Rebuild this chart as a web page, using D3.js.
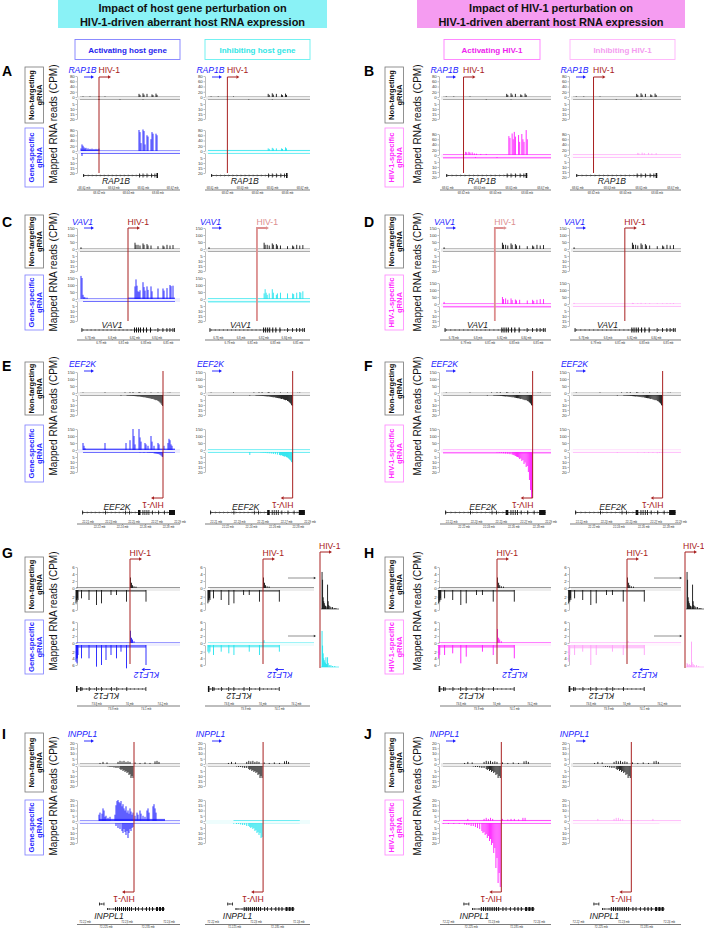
<!DOCTYPE html>
<html><head><meta charset="utf-8">
<script src="https://cdn.jsdelivr.net/npm/d3@7"></script>
<style>body{margin:0;background:#fff}text{font-family:"Liberation Sans",Arial,sans-serif}</style>
</head><body><script>
// ---------------- DATA (positions are % of genomic window; values in CPM) ----------------
// Row A: RAP1B
const rap1bNT = {plus:[[3,2],[10,2],[19,3],[25,2],[59,12],[60,8],[63,14],[64,9],[67,12],[72,10],[73,7],[76,13],[77,8]], minus:[[19,1],[40,0.5],[63,0.5]], floor:[[0,100,1,0.5]]};
const rap1bAct = {plus:[[1,10],[2,25],[3,20],[4,14],[5,10],[6,12],[8,10],[10,8],[12,9],[14,7],[16,8],[18,7],[19,9],[59,80],[60,72],[61,30],[63,82],[64,76],[65,25],[67,60],[68,55],[71,45],[72,72],[73,66],[76,66],[77,60]], minus:[[2,3],[19,1]], floor:[[1,19,5,1],[19,100,2,1]]};
const rap1bInh = {plus:[[59,10],[60,8],[63,12],[64,9],[67,10],[72,10],[73,8],[76,14],[77,10]], minus:[], floor:[[0,100,4,1]]};
const rap1bHivAct = {plus:[[19,6],[21,12],[22,10],[24,12],[25,9],[27,10],[29,6],[31,5],[35,4],[40,4],[61,72],[62,65],[64,82],[65,60],[66,88],[67,70],[70,76],[71,50],[73,80],[74,60],[75,50],[77,95],[78,60]], minus:[[30,1],[50,1]], floor:[[0,100,3,1.5]]};
const rap1bHivInh = {plus:[[60,8],[61,6],[64,9],[66,7],[70,8],[73,6],[77,7]], minus:[], floor:[[0,100,3,1]]};
// Row C: VAV1
const vav1NT = {plus:[[1,12],[55,45],[56,30],[58,30],[60,25],[63,40],[64,30],[67,35],[68,25],[71,25],[78,20],[83,25],[84,18],[87,30],[90,25],[93,28]], minus:[], floor:[[0,100,2,0.5]]};
const vav1Act = {plus:[[1,165],[2,150],[3,30],[4,15],[5,12],[7,10],[55,90],[56,140],[57,95],[58,55],[59,50],[60,62],[63,120],[64,85],[65,60],[67,90],[68,65],[71,90],[72,55],[78,75],[83,75],[84,60],[87,78],[90,100],[91,92],[93,95]], minus:[], floor:[[3,48,4,1],[48,95,10,1]]};
const vav1Inh = {plus:[[55,40],[56,70],[57,45],[58,30],[60,40],[63,70],[64,45],[67,30],[68,40],[71,45],[78,40],[83,40],[84,35],[87,45],[90,50],[91,45],[93,55]], minus:[], floor:[[0,100,6,1.5]]};
const vav1HivAct = {plus:[[1,15],[55,50],[56,35],[58,40],[60,30],[63,40],[64,28],[67,32],[68,25],[71,30],[78,25],[83,30],[84,22],[87,30],[90,35],[93,35]], minus:[], floor:[[0,100,5,1.5]]};
const vav1HivInh = {plus:[[1,8],[55,8],[56,6],[60,6],[63,8],[67,6],[71,6],[78,5],[83,5],[87,6],[90,5],[93,6]], minus:[], floor:[[0,100,4,1]]};
// Row E: EEF2K
const eef2kNT = {plus:[[3,3],[25,4],[45,4],[50,5],[53,6],[59,6],[60,4],[65,3],[71,4],[78,3],[88,2],[90,3]],
  minus:[[41,0.6],[47,0.5],[48,0.6],[49,0.6],[50,0.7],[51,0.8],[52,0.8],[53,1],[54,1],[55,1.1],[56,1.2],[57,1.3],[58,1.5],[59,1.4],[60,1.6],[61,1.8],[62,2],[63,2.1],[64,2.3],[65,2.2],[66,2.6],[67,2.8],[68,3],[69,3.2],[70,3.3],[71,3.6],[72,4],[73,3.8],[74,4.4],[75,4.8],[76,5.2],[77,5],[78,6],[79,6.5],[80,7.5],[81,8.5],[82,10],[82.6,11]], floor:[[0,100,1,0.5]]};
const eef2kAct = {plus:[[3,50],[4,30],[5,12],[25,50],[46,50],[50,70],[53,150],[54,100],[55,40],[59,150],[60,90],[61,60],[65,50],[66,40],[68,30],[71,100],[72,60],[74,30],[78,50],[79,40],[84,30],[88,50],[89,80],[90,70],[91,40],[92,30]],
  minus:[[60,0.5],[64,0.6],[68,0.8],[70,1],[72,1],[74,1.3],[75,1.5],[76,1.6],[77,1.8],[78,2],[79,2.2],[80,2.8],[81,3.5],[82,4.5],[82.6,5]], floor:[[3,95,10,1]]};
const eef2kInh = {plus:[], minus:[[41,3],[52,0.5],[54,0.8],[56,1],[58,1.2],[60,1.4],[62,1.6],[64,2],[66,2.2],[68,2.6],[70,3],[71,3.4],[72,3.2],[73,3.8],[74,4.2],[75,4.6],[76,4.4],[77,5.2],[78,5.6],[79,6.5],[80,7.5],[81,8.5],[82,10],[82.6,10.5]], floor:[[0,100,5,1]]};
const eef2kHivAct = {plus:[], minus:[[50,0.6],[52,0.8],[54,1],[56,1.2],[58,1.5],[60,1.8],[62,2.2],[64,2.6],[65,3],[66,3.4],[67,4],[68,4.6],[69,5],[70,5.5],[71,7],[72,6.5],[73,9],[74,8],[75,12],[76,10.5],[77,15],[78,14],[79,20],[80,28],[81,38],[82,46],[82.6,40]], floor:[[0,100,2,1.5]]};
const eef2kHivInh = {plus:[], minus:[[41,1],[60,0.6],[66,0.8],[70,1],[74,1],[78,1.2],[80,1]], floor:[[0,100,2,1]]};
// Row G: KLF12
const klf12NT = {plus:[[50.5,3],[51.5,1.5],[52.5,0.8],[54,0.5],[56,0.4]], minus:[[-4,4],[-3.5,3],[-3,3.5],[-2.5,2.5],[-2,3],[1.5,2.5],[9,3],[16.5,4.5],[21.5,4],[31,1.5],[36.5,1.5],[46.5,3.5],[66,3.5]], floor:[[-4,100,0.15,0],[-4,66,0,0.5]]};
const klf12Act = {plus:[[50.5,3.5],[51.5,1.5],[52.5,1],[54,0.5]], minus:[[-4,5],[-3.5,4],[-3,5.5],[-2.5,4],[-2,3],[1.5,4],[9,4],[16.5,6.5],[21.5,6],[26,4.5],[31,3],[36.5,4],[41,2],[46.5,7],[66,6]], floor:[[-4,100,0.15,0],[-4,66,0,0.8]]};
const klf12Inh = {plus:[[51,0.8]], minus:[[-4,2],[-3,2.5],[-2,2],[1.5,3],[9,2],[16.5,2.5],[21.5,3],[36.5,2],[46.5,3],[66,2]], floor:[[-4,100,0.15,0],[-4,66,0,0.7]]};
const klf12HivAct = {plus:[[50.5,4],[51.5,1.5],[52.5,1],[54,0.5]], minus:[[-4,4],[-3,3],[1.5,3],[9,2.5],[16.5,5.5],[21.5,3.5],[36.5,2],[46.5,3],[66,4]], floor:[[-4,100,0.2,0],[-4,66,0,0.8]]};
const klf12HivInh = {plus:[[51,0.6]], minus:[[-4,5],[-3,3],[1.5,3],[9,2],[16.5,6],[21.5,3],[36.5,2],[46.5,3],[66,3]], floor:[[-4,100,0.2,0],[-4,66,0,1]]};
const klf12InsetNT = [[1,38],[2,30],[3,12],[4,8],[5,6],[6,4],[7,3],[8,3],[10,2],[11,25],[12,8],[13,4],[15,3],[17,2],[20,2],[23,1],[26,1]];
const klf12InsetInh = [[1,37],[2,22],[3,14],[4,9],[5,7],[6,5],[7,4],[8,10],[9,3],[11,10],[12,4],[14,2],[17,2],[20,1],[24,1]];
const klf12InsetHivInh = [[1,4],[2,3],[3,2],[5,3],[7,2],[9,26],[10,5],[12,3],[14,2],[18,2],[22,1]];
// Row I: INPPL1
const inppl1NT = {plus:[[20,1],[23,2],[27,1.5],[38,2],[40,3],[42,2.5],[44,3],[46,2],[48,2.5],[50,2],[55,1.5],[60,1],[65,1.5],[70,1],[75,2.5],[77,3],[79,2]],
  minus:[[28,0.5],[30,1],[32,1],[34,1.5],[36,2],[38,2],[40,3],[41,4],[42,3],[43,5],[44,4],[45,6],[46,5],[47,7],[48,6],[49,9],[50,8],[51,12],[52,10],[53,12]], floor:[[0,100,0.3,0.3]]};
const inppl1Act = {plus:[[19,6],[20,8],[22,7],[23,12],[24,10],[25,4],[26,5],[28,3],[30,4],[35,6],[36,15],[37,19],[38,20],[39,18],[40,17],[41,19],[42,14],[43,16],[44,12],[45,10],[46,14],[47,8],[48,10],[49,7],[50,12],[51,9],[52,6],[53,8],[55,5],[57,8],[58,6],[60,10],[61,7],[63,5],[65,4],[67,10],[68,12],[69,8],[73,14],[74,16],[75,12],[76,8]],
  minus:[[36,3],[38,5],[40,6],[42,8],[43,10],[44,6],[45,9],[46,12],[47,8],[48,15],[49,10],[50,6],[51,8],[52,5],[53,4]], floor:[[19,85,2,0],[0,100,0.5,0.6]]};
const inppl1Inh = {plus:[], minus:[[25,0.5],[28,1],[30,1],[32,1.5],[34,2],[36,2],[38,3],[40,3],[41,4],[42,5],[43,4],[44,6],[45,5],[46,8],[47,7],[48,10],[49,9],[50,12],[51,10],[52,15],[53,14]], floor:[[25,90,0.8,0.3]]};
const inppl1HivAct = {plus:[[23,2],[38,2],[40,3],[42,2],[44,3],[46,2],[55,2],[60,1.5],[63,2],[66,2],[70,1.5],[74,3],[76,3]],
  minus:[[0,1],[5,1],[10,1],[15,1],[20,1.5],[22,2],[24,2],[26,3],[28,3],[30,4],[32,5],[34,6],[36,8],[37,10],[38,9],[39,12],[40,11],[41,15],[42,13],[43,18],[44,16],[45,22],[46,20],[47,30],[48,25],[49,45],[50,35],[51,60],[52,50],[53,64]], floor:[[0,100,1,1]]};
const inppl1HivInh = {plus:[[23,2],[38,2],[40,3],[42,3],[44,2],[46,2],[60,1],[74,2]], minus:[], floor:[[0,100,0.8,0],[0,80,0,0.5]]};

// gene models: [start,end,height]
const rap1bExons = [[3,3.8,3],[59,59.8,4],[62.6,63.4,4],[66.6,67.4,4],[71,71.8,4],[74.5,75.3,4],[76.5,78,5]];
const vav1Exons = [[1.5,2.3,4],[54,55,5],[56,57,5],[58,59,5],[60,61,5],[63,64,5],[66,67,5],[70,71,5],[77.5,78.3,4],[82.5,83.3,4],[86.5,87.3,4],[89.5,90.3,4],[92.5,93.3,4],[94.2,95,4]];
const eef2kExons = [[2,2.8,4],[25,25.8,4],[45,45.8,4],[49,49.8,4],[58,60.5,5],[62.5,63.3,5],[64.5,65.3,5],[66.5,67.3,5],[68.5,69.3,5],[72,72.8,4],[78,78.8,4],[84,84.8,4],[89,95,5]];
const klf12Exons = [[-4,-2.5,6],[0,0.8,4],[1.5,2.3,4],[8.8,9.6,4],[16,16.8,4],[21,21.8,4],[31,31.8,4],[36.4,37.2,4],[46.4,47.2,4],[65.5,66.3,4]];
const inppl1Exons = [[27,27.8,2],[35,36,4],[37,38,4],[39,40,4],[41,42,4],[43,44,4],[45,46,4],[47,48,4],[49,50,4],[51,52,4],[55,56,4],[58,58.8,4],[62,62.8,4],[66,67,4],[69,70,4],[72,73,4],[76,78,4],[79,81,4],[82,84,4]];
const inppl1ShortExons = [[19,19.6,3],[23.6,24.2,3]];

// axis ticks
const ticksA = [0,20,40,60,80], ticksC = [0,50,100,150], ticksNeg20 = [0,5,10,15,20], ticksG = [0,2,4,6], ticksI = [0,5,10,15,20];
// genomic coordinates (Mb) of each window and tick labels
const coordA = [68.607,68.675], coordTicksA = [68.61,68.62,68.63,68.64,68.65,68.66,68.67];
const coordC = [6.771,6.8605], coordTicksC = [6.78,6.79,6.80,6.81,6.82,6.83,6.84,6.85];
const coordE = [22.203,22.29], coordTicksE = [22.21,22.22,22.23,22.24,22.25,22.26,22.27,22.28,22.29];
const coordG = [73.699,74.305], coordTicksG = [73.8,73.9,74.0,74.1,74.2];
const coordI = [72.2188,72.2426], coordTicksI = [72.22,72.225,72.23,72.235,72.24];

// ---------------- DRAWING ----------------
const W=704,H=931;
const svg=d3.select("body").append("svg").attr("width",W).attr("height",H);
const blue="#1b1bff", cyan="#22e4ee", mag="#ff1cff", lmag="#ffa0f8", ntc="#151515", red="#a82020", lred="#dc8e8e";

function header(x0,x1,fill,l1,l2){
  svg.append("rect").attr("x",x0).attr("y",0).attr("width",x1-x0).attr("height",28).attr("fill",fill);
  const cx=(x0+x1)/2;
  [l1,l2].forEach((t,i)=>svg.append("text").attr("x",cx).attr("y",11.5+i*14.5).attr("text-anchor","middle")
    .attr("font-size",11).attr("font-weight","bold").attr("fill","#111").text(t));
}
header(58,327,"#8af2f6","Impact of host gene perturbation on","HIV-1-driven aberrant host RNA expression");
header(417,685,"#f59cf1","Impact of HIV-1 perturbation on","HIV-1-driven aberrant host RNA expression");
function subBox(x0,x1,stroke,col,t){
  svg.append("rect").attr("x",x0).attr("y",39.5).attr("width",x1-x0).attr("height",20).attr("fill","none").attr("stroke",stroke).attr("stroke-width",0.9);
  svg.append("text").attr("x",(x0+x1)/2).attr("y",52.5).attr("text-anchor","middle").attr("font-size",8).attr("font-weight","bold").attr("fill",col).text(t);
}
subBox(75,180,"#7f7fff","#2424ee","Activating host gene");
subBox(205,310,"#66f0f0","#33e6e6","Inhibiting host gene");
subBox(444,540,"#ff7cff","#ee22ee","Activating HIV-1");
subBox(570,675,"#ffb2fb","#f49cf0","Inhibiting HIV-1");

const halves=[
 {letterX:2, boxX:25, ylabX:57, specText:"Gene-specific", specColor:"#2a2aff", boxColor:"#7d7dff",
  panels:[{ax:77,r:[80,180]},{ax:205,r:[208,310]}], colors:[blue,cyan], prof:["act","inh"], inset:{lineX:320,arrow:[288,316]}},
 {letterX:364, boxX:385, ylabX:421, specText:"HIV-1-specific", specColor:"#ff2cff", boxColor:"#ff86ff",
  panels:[{ax:439,r:[443,551]},{ax:569,r:[573,681]}], colors:[mag,lmag], prof:["hivAct","hivInh"], inset:{lineX:685,arrow:[654,682]}}
];

const rows=[
 {letters:["A","B"], letterY:76, t1:[76,76], t2:[130,134], posMax:80, negMax:20, posT:ticksA, negT:ticksNeg20, ntBox:[67,123], gsBox:[128,187], ylabC:124,
  gene:"RAP1B", topGene:true, topLabelY:73, topArrowY:77, hiv:19, hivDir:"up", hivTop:77, hivBottom:173, hivCols:[red,red,red,red],
  exons:rap1bExons, span:[3,78], strand:1, modelY:175.5, modelLabel:{pos:36,y:184,rot:false,col:"#222"}, coord:coordA, coordT:coordTicksA, coordY:190,
  prof:{nt:rap1bNT,act:rap1bAct,inh:rap1bInh,hivAct:rap1bHivAct,hivInh:rap1bHivInh}},
 {letters:["C","D"], letterY:227, t1:[228,228], t2:[278,283], posMax:150, negMax:20, posT:ticksC, negT:ticksNeg20, ntBox:[215,268], gsBox:[275,330], ylabC:272,
  gene:"VAV1", topGene:true, topLabelY:225, topArrowY:228, hiv:48, hivDir:"up", hivTop:228, hivBottom:321, hivCols:[red,lred,lred,red],
  exons:vav1Exons, span:[1.5,95], strand:1, modelY:330, modelLabel:{pos:32,y:328,rot:false,col:"#222"}, coord:coordC, coordT:coordTicksC, coordY:340,
  prof:{nt:vav1NT,act:vav1Act,inh:vav1Inh,hivAct:vav1HivAct,hivInh:vav1HivInh}},
 {letters:["E","F"], letterY:371, t1:[372,372], t2:[429,429], posMax:150, negMax:20, posT:ticksC, negT:ticksNeg20, ntBox:[362,415], gsBox:[425,482], ylabC:416,
  gene:"EEF2K", topGene:true, topLabelY:367, topArrowY:371, hiv:83, hivDir:"down", hivTop:371, hivBottom:498, hivCols:[red,red,red,red],
  exons:eef2kExons, span:[2,95], strand:1, modelY:512.5, modelLabel:{pos:37,y:510,rot:false,col:"#222"}, coord:coordE, coordT:coordTicksE, coordY:524,
  prof:{nt:eef2kNT,act:eef2kAct,inh:eef2kInh,hivAct:eef2kHivAct,hivInh:eef2kHivInh}},
 {letters:["G","H"], letterY:558, t1:[567,567], t2:[622,622], posMax:6, negMax:6, posT:ticksG, negT:ticksG, ntBox:[557,612], gsBox:[620,674], ylabC:611,
  gene:"KLF12", topGene:false, hiv:50, hivDir:"up", hivLabelY:556, hivArrowY:559, hivTop:559, hivBottom:664, hivCols:[red,red,red,red], shifts:[0,4,0,0],
  exons:klf12Exons, span:[-4,66], strand:-1, modelY:689, modelLabel:{pos:26.5,y:692.5,rot:true,col:"#222"}, coord:coordG, coordT:coordTicksG, coordY:706,
  revLabel:{pos:66.5,y:672,arrowY:669.5}, inset:true,
  prof:{nt:klf12NT,act:klf12Act,inh:klf12Inh,hivAct:klf12HivAct,hivInh:klf12HivInh}},
 {letters:["I","J"], letterY:739, t1:[743,743], t2:[800,800], posMax:20, negMax:20, posT:ticksI, negT:ticksI, ntBox:[733,792], gsBox:[800,855], ylabC:796,
  gene:"INPPL1", topGene:true, topLabelY:737, topArrowY:741, hiv:54, hivDir:"down", hivTop:742, hivBottom:892, hivCols:[red,red,red,red],
  exons:inppl1Exons, span:[27,85], strand:-1, shortTx:{exons:inppl1ShortExons, span:[19,24], dy:-5}, modelY:909, modelLabel:{pos:29,y:919.3,rot:false,col:"#222"}, coord:coordI, coordT:coordTicksI, coordY:924.5,
  prof:{nt:inppl1NT,act:inppl1Act,inh:inppl1Inh,hivAct:inppl1HivAct,hivInh:inppl1HivInh}}
];

function arrowHead(g,x,y,dir,col,s=3){
  g.append("path").attr("d",`M${x},${y}L${x-dir*s},${y-s*0.6}L${x-dir*s},${y+s*0.6}Z`).attr("fill",col);
}

function drawTrack(g,xs,top,row,prof,color,ax){
  const ps=d3.scaleLinear().domain([0,row.posMax]).range([top+21,top]);
  const ns=d3.scaleLinear().domain([0,row.negMax]).range([top+23,top+43]);
  [[ps,row.posT,true],[ns,row.negT,false]].forEach(([s,t,isPos])=>{
    const a=g.append("g").attr("transform",`translate(${ax},0)`).call(d3.axisLeft(s).tickValues(t).tickSize(1.5).tickPadding(0.8).tickSizeOuter(0)
      .tickFormat(v=>(!isPos&&v===0)?"":v));
    a.selectAll("text").attr("font-size",4.3).attr("fill","#333");
    a.selectAll("line,path").attr("stroke","#555").attr("stroke-width",0.4);
  });
  const [x0,x1]=xs.range();
  g.append("line").attr("x1",x0-2).attr("x2",x1).attr("y1",ps(0)).attr("y2",ps(0)).attr("stroke",color).attr("stroke-width",0.5).attr("stroke-opacity",0.3);
  g.append("line").attr("x1",x0-2).attr("x2",x1).attr("y1",ns(0)).attr("y2",ns(0)).attr("stroke",color).attr("stroke-width",0.5).attr("stroke-opacity",0.3);
  prof.floor.forEach(([s,e,vp,vm])=>{
    if(vp>0) g.append("rect").attr("x",xs(s)).attr("width",xs(e)-xs(s)).attr("y",ps(vp)).attr("height",ps(0)-ps(vp)).attr("fill",color).attr("opacity",0.75);
    if(vm>0) g.append("rect").attr("x",xs(s)).attr("width",xs(e)-xs(s)).attr("y",ns(0)).attr("height",ns(vm)-ns(0)).attr("fill",color).attr("opacity",0.6);
  });
  g.selectAll(null).data(prof.plus).join("rect").attr("x",d=>xs(d[0])-0.45).attr("width",0.9)
    .attr("y",d=>ps(d[1])).attr("height",d=>ps(0)-ps(d[1])).attr("fill",color);
  g.selectAll(null).data(prof.minus).join("rect").attr("x",d=>xs(d[0])-0.45).attr("width",0.9)
    .attr("y",ns(0)).attr("height",d=>ns(d[1])-ns(0)).attr("fill",color);
}

function drawModel(g,xs,y,exons,span,strand){
  g.append("line").attr("x1",xs(span[0])).attr("x2",xs(span[1])).attr("y1",y).attr("y2",y).attr("stroke","#111").attr("stroke-width",0.7);
  d3.range(span[0]+2,span[1]-1,4).forEach(p=>{
    const x=xs(p);
    g.append("path").attr("d",`M${x-strand*0.8},${y-1}L${x},${y}L${x-strand*0.8},${y+1}`).attr("fill","none").attr("stroke","#111").attr("stroke-width",0.4);
  });
  g.selectAll(null).data(exons).join("rect").attr("x",d=>xs(d[0])).attr("width",d=>Math.max(0.8,xs(d[1])-xs(d[0])))
    .attr("y",d=>y-d[2]/2).attr("height",d=>d[2]).attr("fill","#111");
}

function rotText(g,x,y,t,size,col,italic){
  g.append("text").attr("transform",`translate(${x},${y}) rotate(180)`).attr("text-anchor","middle")
    .attr("font-size",size).attr("font-style",italic?"italic":"normal").attr("fill",col).text(t);
}

rows.forEach(row=>{
  halves.forEach((half,hi)=>{
    const g=svg.append("g");
    g.append("text").attr("x",half.letterX).attr("y",row.letterY).attr("font-size",14).attr("font-weight","bold").text(row.letters[hi]);
    const box=(y0,y1,stroke,lines,col)=>{
      g.append("rect").attr("x",half.boxX).attr("y",y0).attr("width",18.5).attr("height",y1-y0).attr("fill","none").attr("stroke",stroke).attr("stroke-width",0.8);
      const cy=(y0+y1)/2;
      lines.forEach((t,i)=>g.append("text").attr("transform",`translate(${half.boxX+8.5+i*8},${cy}) rotate(-90)`).attr("text-anchor","middle")
        .attr("font-size",7.6).attr("font-weight","bold").attr("fill",col).text(t));
    };
    box(row.ntBox[0],row.ntBox[1],"#777",["Non-targeting","gRNA"],"#111");
    box(row.gsBox[0],row.gsBox[1],half.boxColor,[half.specText,"gRNA"],half.specColor);
    g.append("text").attr("transform",`translate(${half.ylabX},${row.ylabC}) rotate(-90)`).attr("text-anchor","middle")
      .attr("font-size",10).attr("fill","#111").text("Mapped RNA reads (CPM)");

    half.panels.forEach((p,pi)=>{
      const shift=row.shifts?row.shifts[hi*2+pi]:0;
      const xs=d3.scaleLinear().domain([0,100]).range([p.r[0]+shift,p.r[1]+shift]);
      const pg=g.append("g");
      const col=half.colors[pi];
      drawTrack(pg,xs,row.t1[hi],row,row.prof.nt,ntc,p.ax);
      drawTrack(pg,xs,row.t2[hi],row,row.prof[half.prof[pi]],col,p.ax);
      if(row.topGene){
        pg.append("text").attr("x",p.ax+5.5).attr("y",row.topLabelY).attr("text-anchor","middle").attr("font-size",8.6).attr("font-style","italic").attr("fill",blue).text(row.gene);
        pg.append("line").attr("x1",p.ax+7).attr("x2",p.ax+14).attr("y1",row.topArrowY).attr("y2",row.topArrowY).attr("stroke",blue).attr("stroke-width",0.9);
        arrowHead(pg,p.ax+17,row.topArrowY,1,blue);
      }
      const hx=xs(row.hiv), hc=row.hivCols[hi*2+pi], hw=hc===lred?1.8:1;
      if(row.hivDir==="up"){
        const ay=row.hivArrowY||row.topArrowY;
        pg.append("path").attr("d",`M${hx},${row.hivBottom}V${ay}H${hx+9}`).attr("fill","none").attr("stroke",hc).attr("stroke-width",hw);
        arrowHead(pg,hx+12,ay,1,hc);
        pg.append("text").attr("x",hx-0.5).attr("y",(row.hivLabelY||row.topLabelY)).attr("font-size",8.6).attr("fill",hc).text("HIV-1");
      } else {
        pg.append("path").attr("d",`M${hx},${row.hivTop}V${row.hivBottom}H${hx-9}`).attr("fill","none").attr("stroke",hc).attr("stroke-width",hw);
        arrowHead(pg,hx-12,row.hivBottom,-1,hc);
        rotText(pg,hx-10,row.hivBottom+3.5,"HIV-1",8.6,hc,false);
      }
      if(row.revLabel){
        rotText(pg,xs(row.revLabel.pos),row.revLabel.y,row.gene,8.6,blue,true);
        pg.append("line").attr("x1",xs(row.revLabel.pos+4)).attr("x2",xs(row.revLabel.pos-2)).attr("y1",row.revLabel.arrowY).attr("y2",row.revLabel.arrowY).attr("stroke",blue).attr("stroke-width",0.9);
        arrowHead(pg,xs(row.revLabel.pos-5),row.revLabel.arrowY,-1,blue);
      }
      drawModel(pg,xs,row.modelY,row.exons,row.span,row.strand);
      if(row.shortTx) drawModel(pg,xs,row.modelY+row.shortTx.dy,row.shortTx.exons,row.shortTx.span,-1);
      const ml=row.modelLabel;
      if(ml.rot) rotText(pg,xs(ml.pos),ml.y,row.gene,8.6,ml.col,true);
      else pg.append("text").attr("x",xs(ml.pos)).attr("y",ml.y).attr("text-anchor","middle").attr("font-size",8.6).attr("font-style","italic").attr("fill",ml.col).text(row.gene);
      const cs=d3.scaleLinear().domain(row.coord).range(xs.range());
      pg.append("line").attr("x1",p.r[0]-3).attr("x2",p.r[1]).attr("y1",row.coordY).attr("y2",row.coordY).attr("stroke","#444").attr("stroke-width",0.7);
      row.coordT.forEach((v,i)=>{
        const x=cs(v);
        pg.append("line").attr("x1",x).attr("x2",x).attr("y1",row.coordY-(i%2?0:1)).attr("y2",row.coordY+(i%2?1:0)).attr("stroke","#444").attr("stroke-width",0.4);
        pg.append("text").attr("x",x).attr("y",row.coordY+(i%2?3.6:-1.2)).attr("text-anchor","middle").attr("font-size",2.8).attr("fill","#333")
          .text((+v.toFixed(3)).toString()+" mb");
      });
    });

    if(row.inset){
      const L=half.inset.lineX;
      const ix=d3.scaleLinear().domain([0,28]).range([L+1.5,L+17]);
      const iy=d3.scaleLinear().domain([0,40]).range([0,39]);
      g.append("path").attr("d",`M${L},668V552H${L+9}`).attr("fill","none").attr("stroke",red).attr("stroke-width",1);
      arrowHead(g,L+12,552,1,red);
      const lx=Math.min(L-1,703-20);
      g.append("text").attr("x",lx).attr("y",549).attr("font-size",8.6).attr("fill",red).text("HIV-1");
      const sets=[[klf12InsetNT,609,ntc,578],[hi===0?klf12InsetInh:klf12InsetHivInh,667,half.colors[1],636]];
      sets.forEach(([data,base,col,ay])=>{
        g.append("line").attr("x1",L+1).attr("x2",L+19).attr("y1",base).attr("y2",base).attr("stroke",col).attr("stroke-width",0.6);
        g.selectAll(null).data(data).join("rect").attr("x",d=>ix(d[0])-0.45).attr("width",0.9).attr("y",d=>base-iy(d[1])).attr("height",d=>iy(d[1])).attr("fill",col);
        g.append("line").attr("x1",half.inset.arrow[0]).attr("x2",half.inset.arrow[1]-2).attr("y1",ay).attr("y2",ay).attr("stroke","#222").attr("stroke-width",0.5);
        arrowHead(g,half.inset.arrow[1],ay,1,"#222",2.2);
      });
    }
  });
});
</script></body></html>
